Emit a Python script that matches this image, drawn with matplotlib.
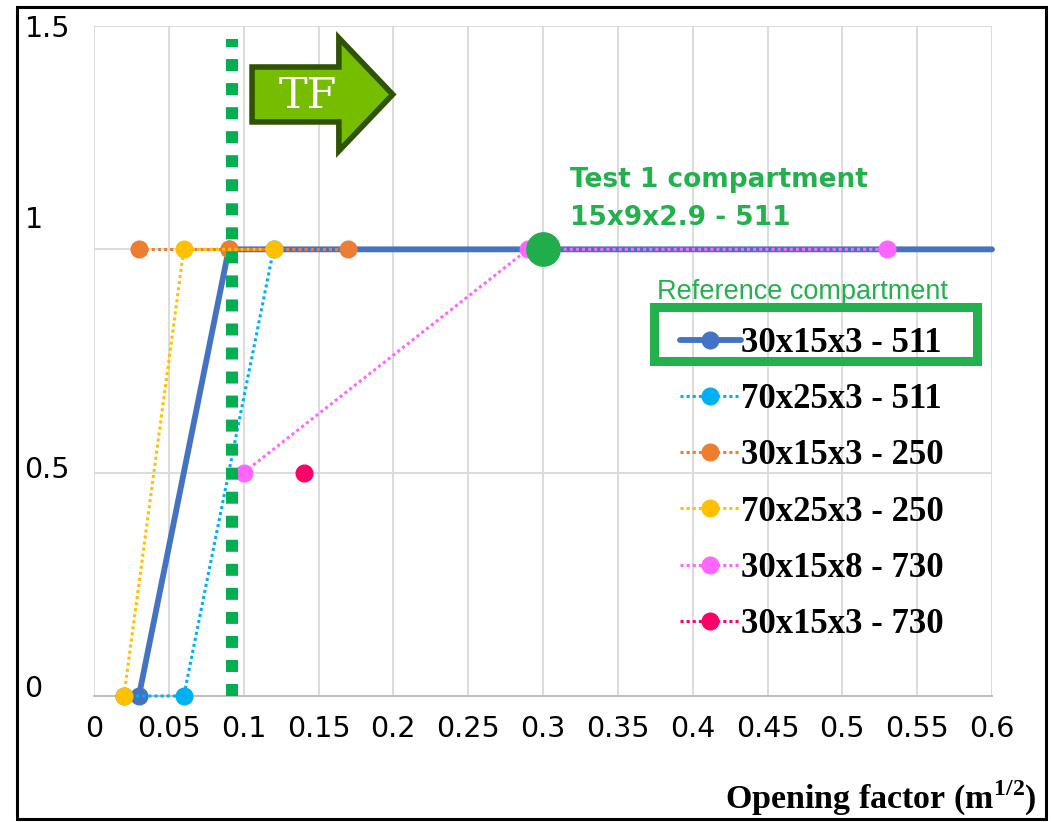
import matplotlib
matplotlib.use("Agg")
import matplotlib.pyplot as plt
import matplotlib.patches as mpatches
from matplotlib.lines import Line2D
from matplotlib.transforms import ScaledTranslation

plt.rcParams["mathtext.fontset"] = "custom"
plt.rcParams["mathtext.rm"] = "Liberation Serif"
plt.rcParams["mathtext.bf"] = "Liberation Serif:bold"

# data
series_labels = ["30x15x3 - 511", "70x25x3 - 511", "30x15x3 - 250",
                 "70x25x3 - 250", "30x15x8 - 730", "30x15x3 - 730"]
x_30x15x3_511 = [0.03, 0.09, 0.6]
y_30x15x3_511 = [0, 1, 1]
x_70x25x3_511 = [0.02, 0.06, 0.12]
y_70x25x3_511 = [0, 0, 1]
x_30x15x3_250 = [0.03, 0.09, 0.17]
y_30x15x3_250 = [1, 1, 1]
x_70x25x3_250 = [0.02, 0.06, 0.12]
y_70x25x3_250 = [0, 1, 1]
x_30x15x8_730 = [0.1, 0.29, 0.53]
y_30x15x8_730 = [0.5, 1, 1]
x_30x15x3_730 = [0.14]
y_30x15x3_730 = [0.5]
test1_x = [0.3]
test1_y = [1]
tf_x = 0.092

xticks = [0, 0.05, 0.1, 0.15, 0.2, 0.25, 0.3, 0.35, 0.4, 0.45, 0.5, 0.55, 0.6]
xtick_labels = ["0", "0.05", "0.1", "0.15", "0.2", "0.25", "0.3", "0.35",
                "0.4", "0.45", "0.5", "0.55", "0.6"]
yticks = [0, 0.5, 1, 1.5]
ytick_labels = ["0", "0.5", "1", "1.5"]
ytick_shift_px = [10, 6, 32, 0]  # labels sit a bit above their gridlines in the original

colors = ["#4472C4", "#00B0F0", "#ED7D31", "#FFC000", "#FF66FF", "#FF0066"]
green = "#22B14C"

fig = plt.figure(figsize=(10.51, 8.22), dpi=100)
ax = fig.add_axes([94 / 1051, 126 / 822, 898 / 1051, 670 / 822])
ax.set_xlim(0, 0.6)
ax.set_ylim(0, 1.5)

dot = (0, (1, 1))
ms = 12
styles = [
    dict(color=colors[0], lw=4.2, ls="-", marker="o", ms=ms, solid_capstyle="round"),
    dict(color=colors[1], lw=2.2, ls=dot, marker="o", ms=ms),
    dict(color=colors[2], lw=2.2, ls=dot, marker="o", ms=ms),
    dict(color=colors[3], lw=2.2, ls=dot, marker="o", ms=ms),
    dict(color=colors[4], lw=2.2, ls=dot, marker="o", ms=ms),
    dict(color=colors[5], lw=2.2, ls=dot, marker="o", ms=ms),
]
xs = [x_30x15x3_511, x_70x25x3_511, x_30x15x3_250, x_70x25x3_250, x_30x15x8_730, x_30x15x3_730]
ys = [y_30x15x3_511, y_70x25x3_511, y_30x15x3_250, y_70x25x3_250, y_30x15x8_730, y_30x15x3_730]

for i, (x, y, st) in enumerate(zip(xs, ys, styles)):
    kw = dict(st)
    if i == 0:
        kw["markevery"] = [0, 1]
    ax.plot(x, y, clip_on=False, zorder=3 + i, **kw)

# test 1 compartment point
ax.plot(test1_x, test1_y, "o", color="#1FAE4B", ms=24, zorder=12, clip_on=False)

# TF line
ax.plot([tf_x, tf_x], [0, 1.471], color="#00B050", lw=8.64, ls=(0, (1, 1.003)),
        dash_capstyle="butt", zorder=11, clip_on=False)

# TF arrow
arrow = mpatches.FancyArrow(0.1056, 1.3467, 0.094, 0, width=0.123, head_width=0.253,
                            head_length=0.036, length_includes_head=True,
                            fc="#76BD00", ec="#2F5300", lw=4, joinstyle="miter",
                            zorder=13, clip_on=False)
ax.add_patch(arrow)
ax.text(0.143, 1.343, "TF", color="white", fontsize=31, family="DejaVu Serif",
        ha="center", va="center", zorder=14)

ax.text(0.530, 0.7597, "Test 1 compartment", transform=ax.transAxes, color=green,
        fontsize=19, fontweight="bold", family="DejaVu Sans", va="baseline")
ax.text(0.530, 0.703, "15x9x2.9 - 511", transform=ax.transAxes, color=green,
        fontsize=19, fontweight="bold", family="DejaVu Sans", va="baseline")

# legend
handles = [Line2D([], [], **st) for st in styles]
leg = ax.legend(handles, series_labels, loc="upper left", bbox_to_anchor=(0.6526, 0.551),
                frameon=False, borderpad=0, borderaxespad=0, handlelength=1.75,
                handletextpad=0.0, labelspacing=0.67,
                prop=dict(family="Liberation Serif", weight="bold", size=25))
leg.set_zorder(20)
ax.text(0.627, 0.5925, "Reference compartment", transform=ax.transAxes, color=green,
        fontsize=19.5, family="Liberation Sans", va="baseline")
ax.add_patch(mpatches.Rectangle((0.624, 0.4993), 0.359, 0.082, transform=ax.transAxes,
                                fill=False, ec=green, lw=6.5, clip_on=False, zorder=21))

# axes styling
ax.set_xticks(xticks, xtick_labels)
ax.set_yticks(yticks, ytick_labels)
ax.tick_params(axis="x", length=0, pad=14, labelsize=20.5)
ax.tick_params(axis="y", length=0, pad=50, labelsize=20.5)
for lab, dy in zip(ax.get_yticklabels(), ytick_shift_px):
    lab.set_horizontalalignment("left")
    lab.set_transform(lab.get_transform() + ScaledTranslation(0, dy / 100, fig.dpi_scale_trans))
for lab in ax.get_xticklabels() + ax.get_yticklabels():
    lab.set_family("DejaVu Sans")
ax.grid(color="#D9D9D9", lw=1.3)
ax.set_axisbelow(True)
for side in ["top", "right", "left"]:
    ax.spines[side].set_visible(False)
ax.spines["bottom"].set_color("#BFBFBF")
ax.spines["bottom"].set_linewidth(1.4)

fig.text(0.9867, 0.0158, r"Opening factor ($\mathbf{m}^{\mathbf{1/2}}$)",
         family="Liberation Serif", fontweight="bold", fontsize=24.5,
         ha="right", va="baseline")

# outer frame
fig.patches.append(mpatches.Rectangle((0.01665, 0.00365), 0.9786, 0.9878,
                                      transform=fig.transFigure, fill=False,
                                      ec="black", lw=2.2))

fig.savefig("out.png", dpi=100)
